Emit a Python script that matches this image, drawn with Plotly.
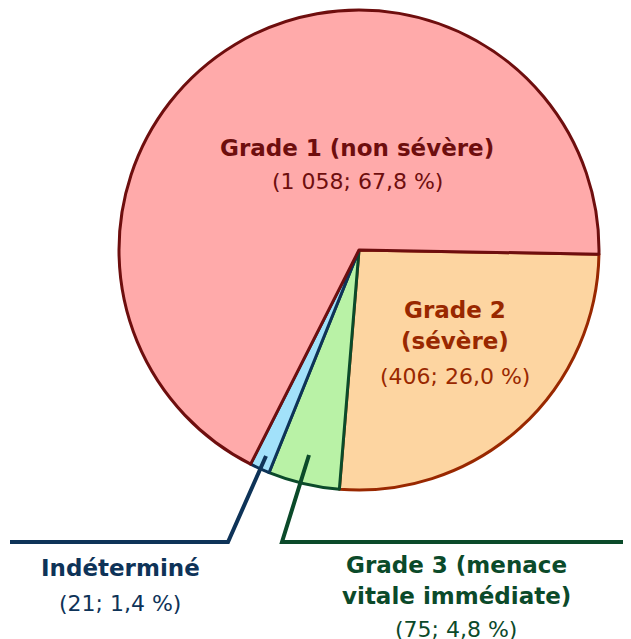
import plotly.graph_objects as go

W, H = 631, 639
OFF = 8  # page body margin offset of the rendered figure

# Data
categories = ["Grade 2 (sévère)", "Grade 3 (menace vitale immédiate)", "Indéterminé", "Grade 1 (non sévère)"]
label_lines = [["Grade 2", "(sévère)"], ["Grade 3 (menace", "vitale immédiate)"], ["Indéterminé"], ["Grade 1 (non sévère)"]]
counts = [406, 75, 21, 1058]
percents = [26.0, 4.8, 1.4, 67.8]

fills = ["#FDD5A1", "#B9F2A6", "#A2E1FA", "#FFAAAA"]
dark = ["#992800", "#0B4A2A", "#0E3358", "#6E0E0E"]

FONT = "DejaVu Sans"


def fr_num(n):
    return f"{n:,}".replace(",", " ")


def fr_pct(p):
    return f"{p:.1f}".replace(".", ",")


def px(x):
    return (x - OFF) / W


def py(y):
    return 1 - (y - OFF) / H


fig = go.Figure()
cx, cy, r = 359, 250, 240
fig.add_trace(go.Pie(
    labels=categories, values=counts, sort=False, direction="clockwise", rotation=91,
    marker=dict(colors=fills, line=dict(color=dark, width=3)),
    textinfo="none", hoverinfo="label+value+percent", showlegend=False,
    domain=dict(x=[px(cx - r), px(cx + r)], y=[py(cy + r), py(cy - r)]),
))

annots = []
# label anchor positions (pixel centers of first line) and line spacing
positions = {0: (455, 310, [31, 35]), 1: (456, 565, [31, 33]), 2: (120, 568, [35]), 3: (357, 148, [34])}
for i in range(4):
    x0, y0, gaps = positions[i]
    y = y0
    lines = label_lines[i] + [f"({fr_num(counts[i])}; {fr_pct(percents[i])} %)"]
    for j, t in enumerate(lines):
        bold = j < len(label_lines[i])
        annots.append(dict(
            x=px(x0), y=py(y), xref="paper", yref="paper", showarrow=False,
            text=f"<b>{t}</b>" if bold else t,
            font=dict(family=FONT, size=23 if bold else 22, color=dark[i]),
            xanchor="center", yanchor="middle",
        ))
        if j < len(gaps):
            y += gaps[j]
fig.update_layout(annotations=annots)

# leader lines
leaders = [
    (dark[2], [(266, 456), (228, 542), (10, 542)]),
    (dark[1], [(309, 455), (282, 542), (640, 542)]),
]
for col, pts in leaders:
    path = "M " + " L ".join(f"{px(x)},{py(y)}" for x, y in pts)
    fig.add_shape(type="path", path=path, xref="paper", yref="paper",
                  line=dict(color=col, width=4))

fig.update_layout(
    width=W, height=H, margin=dict(l=0, r=0, t=0, b=0),
    paper_bgcolor="white", plot_bgcolor="white",
)
fig.write_html("out.html")
